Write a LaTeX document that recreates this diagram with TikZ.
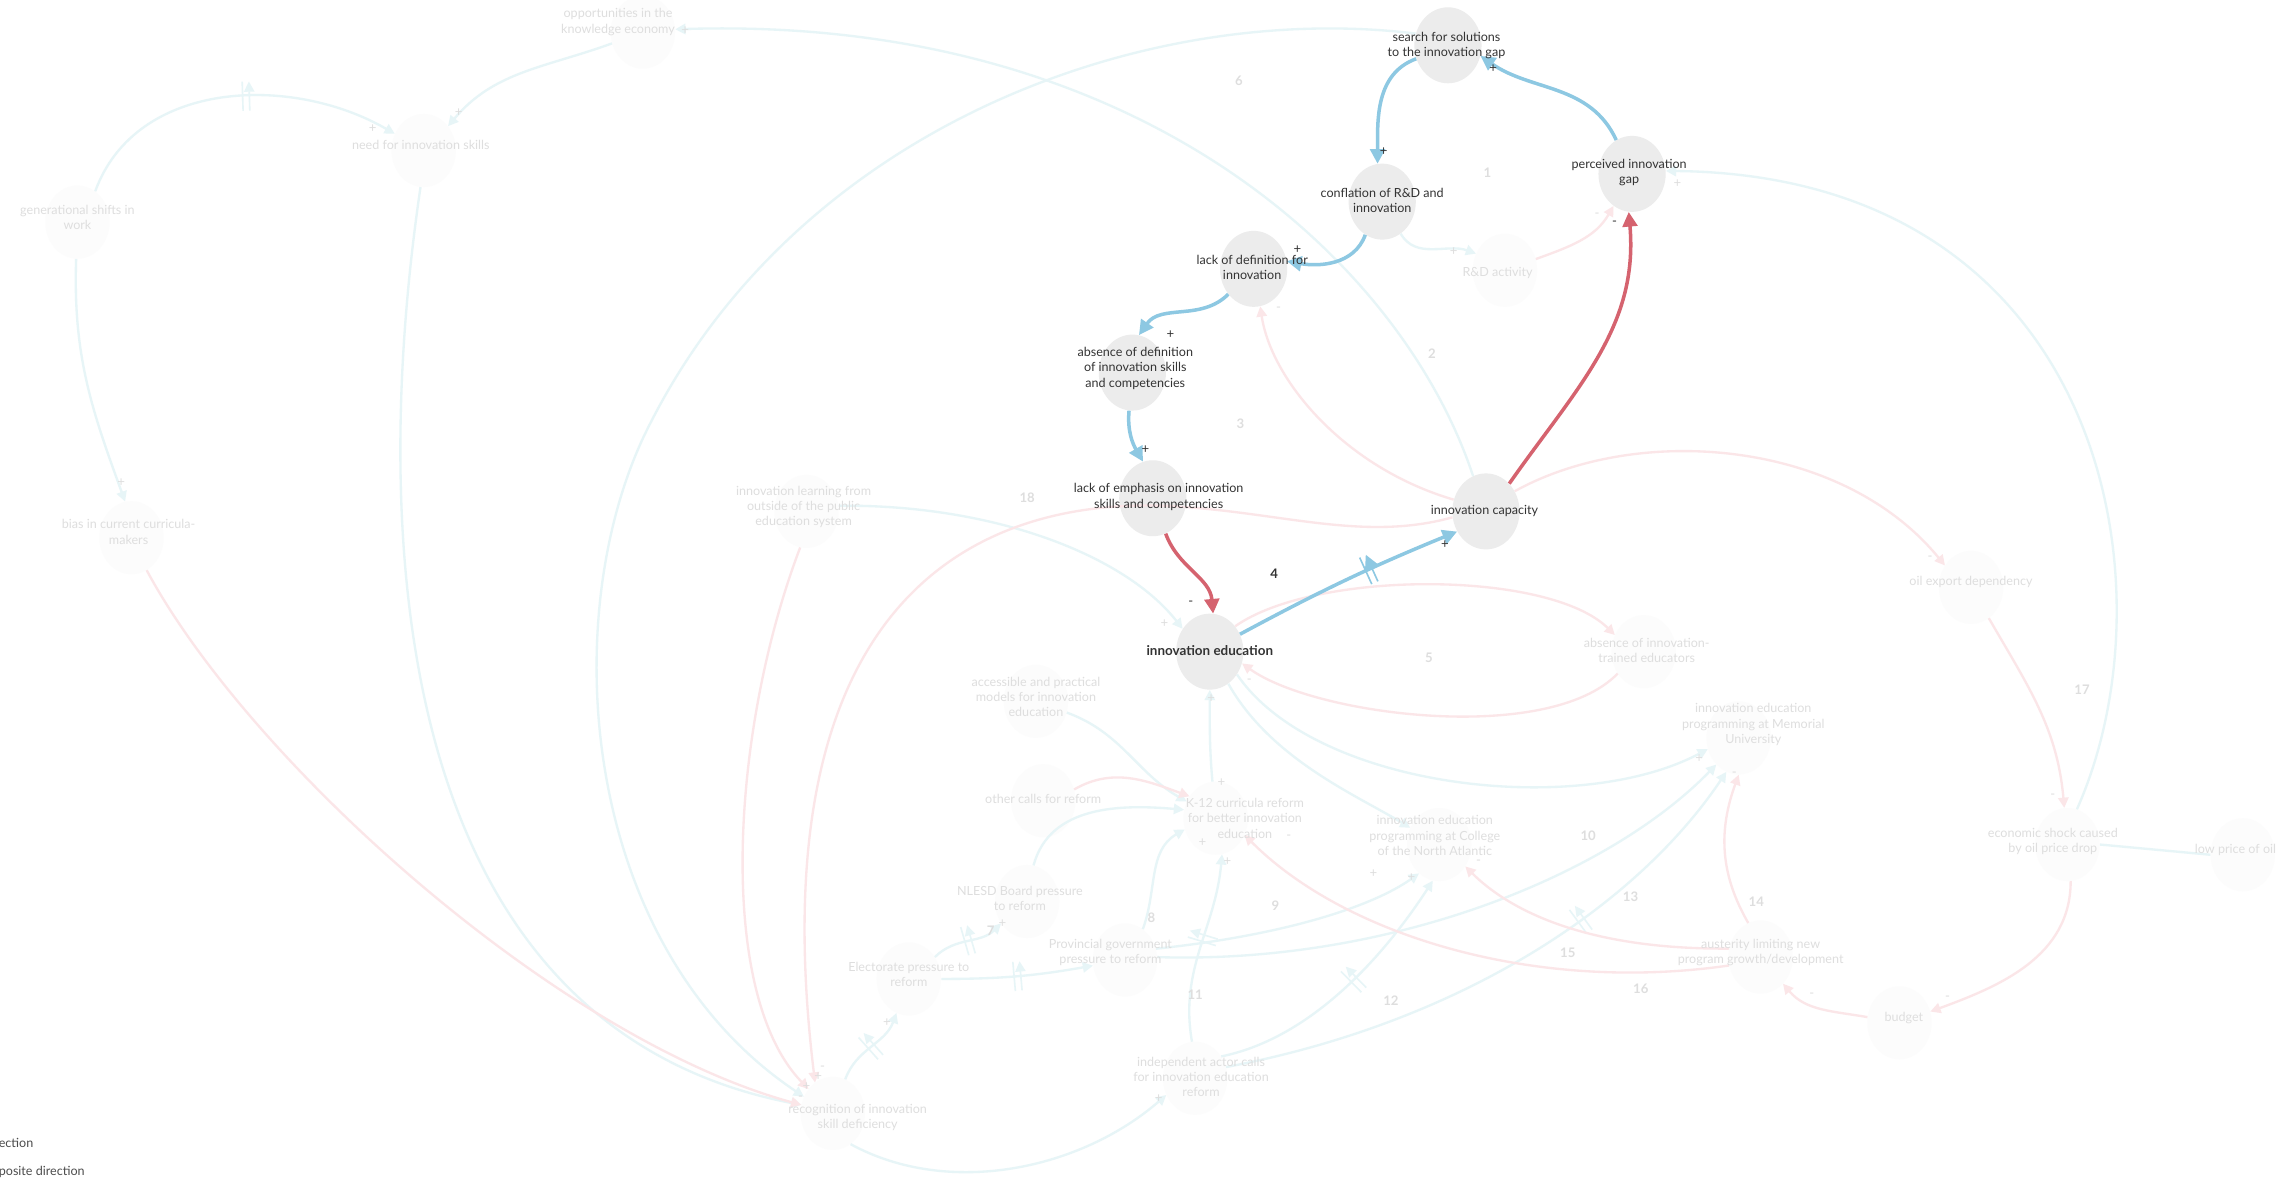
\documentclass[tikz,border=0pt]{standalone}
\usepackage{fontspec}
\setmainfont{Lato}
\usetikzlibrary{arrows.meta,decorations.markings,shapes.geometric}
\definecolor{cblue}{HTML}{8DC8E2}
\definecolor{cred}{HTML}{D5636F}
\definecolor{fblue}{HTML}{E7F5F7}
\definecolor{fred}{HTML}{FBE6E8}
\definecolor{bub}{HTML}{ECECEC}
\definecolor{fbub}{HTML}{FCFCFC}
\definecolor{ftext}{HTML}{DEDEDE}
\definecolor{dtext}{HTML}{333333}
\tikzset{
 bubble/.style={ellipse, fill=bub, minimum width=46pt, minimum height=52pt, inner sep=0},
 fbubble/.style={ellipse, fill=fbub, minimum width=44pt, minimum height=50pt, inner sep=0},
 lbl/.style={align=center, inner sep=0, text=dtext, font=\fontsize{8.6}{10.5}\selectfont},
 flbl/.style={lbl, text=ftext},
 sgn/.style={inner sep=0, text=dtext, font=\fontsize{9}{9}\selectfont},
 fsgn/.style={sgn, text=ftext},
 num/.style={inner sep=0, text=ftext, font=\fontsize{9}{9}\selectfont\bfseries},
 blink/.style={draw=cblue, line width=2.4pt, -{Triangle[length=10pt,width=10pt]}},
 rlink/.style={draw=cred, line width=2.4pt, -{Triangle[length=10pt,width=10pt]}},
 fblink/.style={draw=fblue, line width=1.6pt, -{Triangle[length=7pt,width=7pt]}},
 frlink/.style={draw=fred, line width=1.6pt, -{Triangle[length=7pt,width=7pt]}},
 dbar/.style 2 args={postaction={decorate,decoration={markings,
   mark=at position #1 with {\draw[#2,line width=1.1pt] (-2.3pt,-10pt)--(-2.3pt,10pt) (2.3pt,-10pt)--(2.3pt,10pt);}}}}
}
\begin{document}
\begin{tikzpicture}[x=1pt,y=1pt]
\fill[white] (0,0) rectangle (1568,-809);
\useasboundingbox (0,0) rectangle (1568,-809);

% faint bubbles
\node[fbubble] (opp) at (440,-22) {};
\node[fbubble] (need) at (290,-103) {};
\node[fbubble] (gen) at (53,-152) {};
\node[fbubble] (bias) at (90,-368) {};
\node[fbubble] (learn) at (552,-350) {};
\node[fbubble] (rnd) at (1030,-185) {};
\node[fbubble] (atrained) at (1125,-446) {};
\node[fbubble] (oil) at (1349,-402) {};
\node[fbubble] (mun) at (1190,-505) {};
\node[fbubble] (shock) at (1415,-578) {};
\node[fbubble] (lowoil) at (1535,-585) {};
\node[fbubble] (access) at (709,-480) {};
\node[fbubble] (other) at (714,-548) {};
\node[fbubble] (k12) at (832,-560) {};
\node[fbubble] (cna) at (985,-578) {};
\node[fbubble] (nlesd) at (703,-617) {};
\node[fbubble] (prov) at (770,-657) {};
\node[fbubble] (elect) at (622,-670) {};
\node[fbubble] (aust) at (1205,-655) {};
\node[fbubble] (budget) at (1300,-700) {};
\node[fbubble] (indep) at (818,-738) {};
\node[fbubble] (recog) at (570,-762) {};

% main bubbles
\node[bubble] (search) at (991,-31) {};
\node[bubble] (perceived) at (1117,-119) {};
\node[bubble] (conflation) at (946,-138) {};
\node[bubble] (lackdef) at (858,-184) {};
\node[bubble] (absence) at (775,-255) {};
\node[bubble] (lackemph) at (789,-341) {};
\node[bubble] (capacity) at (1017,-350) {};
\node[bubble] (innoved) at (828,-446) {};

% faint blue connectors
\draw[fblink, dbar={0.55}{fblue}] (gen.60) to[out=70,in=150] (need.150);
\draw[fblink] (gen.-92) to[out=-92,in=110] (bias.100);
\draw[fblink] (opp.200) to[out=200,in=50] (need.45);
\draw[fblink] (capacity.110) .. controls (960,-180) and (780,-10) .. (opp.5);
\draw[fblink] (search.160) .. controls (780,0) and (540,-90) .. (440,-300) .. controls (380,-430) and (400,-650) .. (recog.150);
\draw[fblink] (need.-95) .. controls (255,-350) and (260,-700) .. (recog.165);
\draw[fblink] (shock.75) .. controls (1490,-400) and (1440,-120) .. (perceived.5);
\draw[draw=fblue, line width=1.6pt] (lowoil.180) -- (shock.0);
\draw[fblink] (learn.10) .. controls (680,-345) and (770,-380) .. (innoved.140);
\draw[fblink] (conflation.-60) to[out=-60,in=160] (rnd.150);
\draw[fblink] (innoved.-40) .. controls (900,-540) and (1080,-560) .. (mun.200);
\draw[fblink] (innoved.-60) .. controls (870,-520) and (930,-545) .. (cna.150);
\draw[fblink] (k12.95) to[out=95,in=-90] (innoved.-90);
\draw[fblink] (access.-20) to[out=-20,in=150] (k12.150);
\draw[fblink] (nlesd.80) to[out=75,in=175] (k12.165);
\draw[fblink] (prov.60) to[out=70,in=210] (k12.200);
\draw[fblink, dbar={0.55}{fblue}] (indep.95) to[out=100,in=-95] (k12.-80);
\draw[fblink, dbar={0.5}{fblue}] (elect.40) to[out=45,in=225] (nlesd.220);
\draw[fblink, dbar={0.5}{fblue}] (elect.0) to[out=0,in=190] (prov.190);
\draw[fblink, dbar={0.5}{fblue}] (recog.70) to[out=70,in=250] (elect.250);
\draw[fblink] (recog.-60) .. controls (650,-820) and (740,-800) .. (indep.210);
\draw[fblink] (prov.5) .. controls (950,-660) and (1100,-600) .. (mun.230);
\draw[fblink] (prov.20) .. controls (880,-640) and (940,-620) .. (cna.235);
\draw[fblink, dbar={0.55}{fblue}] (indep.40) .. controls (900,-710) and (950,-650) .. (cna.260);
\draw[fblink, dbar={0.65}{fblue}] (indep.20) .. controls (1000,-700) and (1120,-620) .. (mun.250);

% faint red connectors
\draw[frlink] (capacity.160) .. controls (920,-320) and (870,-260) .. (lackdef.-80);
\draw[frlink] (rnd.20) to[out=20,in=-120] (perceived.-120);
\draw[frlink] (capacity.190) .. controls (930,-372) and (870,-348) .. (790,-346) .. controls (650,-344) and (520,-430) .. (recog.120);
\draw[frlink] (learn.-100) .. controls (500,-500) and (490,-680) .. (recog.135);
\draw[frlink] (bias.-65) .. controls (170,-520) and (380,-710) .. (recog.165);
\draw[frlink] (capacity.35) .. controls (1120,-290) and (1260,-300) .. (oil.140);
\draw[frlink] (oil.-60) to[out=-60,in=95] (shock.95);
\draw[frlink] (shock.-85) to[out=-90,in=20] (budget.20);
\draw[frlink] (budget.170) to[out=170,in=-50] (aust.-50);
\draw[frlink] (aust.110) to[out=120,in=-110] (mun.-90);
\draw[frlink] (aust.165) .. controls (1080,-650) and (1030,-620) .. (cna.-40);
\draw[frlink] (aust.195) .. controls (1050,-680) and (920,-640) .. (k12.-30);
\draw[frlink] (innoved.45) .. controls (900,-390) and (1060,-390) .. (atrained.150);
\draw[frlink] (atrained.-140) .. controls (1060,-510) and (900,-490) .. (innoved.-20);
\draw[frlink] (other.20) to[out=30,in=160] (k12.140);

% main connectors
\draw[blink] (perceived.115) to[out=115,in=-35] (search.-18);
\draw[blink] (search.203) to[out=200,in=90] (conflation.97);
\draw[blink] (conflation.243) to[out=-110,in=-10] (lackdef.13);
\draw[blink] (lackdef.225) to[out=225,in=55] (absence.80);
\draw[blink] (absence.265) to[out=-95,in=120] (lackemph.105);
\draw[blink, dbar={0.6}{cblue}] (innoved.30) to[bend left=3] (capacity.215);
\draw[rlink] (lackemph.-70) to[out=-70,in=95] (innoved.85);
\draw[rlink] (capacity.50) to[out=55,in=-85] (perceived.-95);

% faint labels
\node[flbl] (t-opp) at (423,-15) {opportunities in the\\knowledge economy};
\node[flbl] (t-need) at (288,-99) {need for innovation skills};
\node[flbl] (t-gen) at (53,-149) {generational shifts in\\work};
\node[flbl] (t-bias) at (88,-364) {bias in current curricula-\\makers};
\node[flbl] (t-learn) at (550,-347) {innovation learning from\\outside of the public\\education system};
\node[flbl] (t-rnd) at (1025,-187) {R\&D activity};
\node[flbl] (t-atrained) at (1127,-445) {absence of innovation-\\trained educators};
\node[flbl] (t-oil) at (1349,-398) {oil export dependency};
\node[flbl] (t-mun) at (1200,-496) {innovation education\\programming at Memorial\\University};
\node[flbl] (t-shock) at (1405,-576) {economic shock caused\\by oil price drop};
\node[flbl] (t-lowoil) at (1530,-582) {low price of oil};
\node[flbl] (t-access) at (709,-477) {accessible and practical\\models for innovation\\education};
\node[flbl] (t-other) at (714,-547) {other calls for reform};
\node[flbl] (t-k12) at (852,-560) {K-12 curricula reform\\for better innovation\\education};
\node[flbl] (t-cna) at (982,-572) {innovation education\\programming at College\\of the North Atlantic};
\node[flbl] (t-nlesd) at (698,-615) {NLESD Board pressure\\to reform};
\node[flbl] (t-prov) at (760,-652) {Provincial government\\pressure to reform};
\node[flbl] (t-elect) at (622,-667) {Electorate pressure to\\reform};
\node[flbl] (t-aust) at (1205,-652) {austerity limiting new\\program growth/development};
\node[flbl] (t-budget) at (1303,-697) {budget};
\node[flbl] (t-indep) at (822,-737) {independent actor calls\\for innovation education\\reform};
\node[flbl] (t-recog) at (587,-765) {recognition of innovation\\skill deficiency};

% loop numbers
\node[num] (n1) at (1018,-118) {1};
\node[num] (n2) at (980,-242) {2};
\node[num] (n3) at (849,-290) {3};
\node[num] (n5) at (978,-450) {5};
\node[num] (n6) at (848,-55) {6};
\node[num] (n7) at (678,-637) {7};
\node[num] (n8) at (788,-628) {8};
\node[num] (n9) at (873,-620) {9};
\node[num] (n10) at (1087,-572) {10};
\node[num] (n11) at (818,-681) {11};
\node[num] (n12) at (952,-685) {12};
\node[num] (n13) at (1116,-614) {13};
\node[num] (n14) at (1202,-617) {14};
\node[num] (n15) at (1073,-652) {15};
\node[num] (n16) at (1123,-677) {16};
\node[num] (n17) at (1425,-472) {17};
\node[num] (n18) at (703,-341) {18};
\node[num, text=dtext] (n4) at (872,-393) {4};

% faint signs
\node[fsgn] (fs1) at (255,-88) {+};
\node[fsgn] (fs2) at (314,-77) {+};
\node[fsgn] (fs3) at (83,-330) {+};
\node[fsgn] (fs4) at (469,-21) {+};
\node[fsgn] (fs5) at (1148,-126) {+};
\node[fsgn] (fs6) at (797,-427) {+};
\node[fsgn] (fs7) at (995,-172) {+};
\node[fsgn] (fs8) at (1163,-519) {+};
\node[fsgn] (fs9) at (829,-478) {+};
\node[fsgn] (fs10) at (836,-536) {+};
\node[fsgn] (fs11) at (823,-577) {+};
\node[fsgn] (fs12) at (840,-590) {+};
\node[fsgn] (fs13) at (686,-632) {+};
\node[fsgn] (fs14) at (607,-700) {+};
\node[fsgn] (fs15) at (793,-752) {+};
\node[fsgn] (fs16) at (966,-601) {+};
\node[fsgn] (fs17) at (940,-598) {+};
\node[fsgn] (fs18) at (560,-737) {+};
\node[fsgn] (fs19) at (552,-744) {+};
\node[fsgn] (fs20) at (875,-212) {-};
\node[fsgn] (fs21) at (1093,-147) {-};
\node[fsgn] (fs22) at (1321,-382) {-};
\node[fsgn] (fs23) at (1405,-545) {-};
\node[fsgn] (fs24) at (1333,-683) {-};
\node[fsgn] (fs25) at (1240,-681) {-};
\node[fsgn] (fs26) at (1187,-530) {-};
\node[fsgn] (fs27) at (1012,-590) {-};
\node[fsgn] (fs28) at (882,-573) {-};
\node[fsgn] (fs29) at (855,-466) {-};
\node[fsgn] (fs30) at (548,-752) {-};
\node[fsgn] (fs31) at (563,-731) {-};

% main labels
\node[lbl] (t-search) at (990,-31) {search for solutions\\to the innovation gap};
\node[lbl] (t-perceived) at (1115,-118) {perceived innovation\\gap};
\node[lbl] (t-conflation) at (946,-137) {conflation of R\&D and\\innovation};
\node[lbl] (t-lackdef) at (857,-183) {lack of definition for\\innovation};
\node[lbl] (t-absence) at (777,-252) {absence of definition\\of innovation skills\\and competencies};
\node[lbl] (t-lackemph) at (793,-340) {lack of emphasis on innovation\\skills and competencies};
\node[lbl] (t-capacity) at (1016,-350) {innovation capacity};
\node[lbl, font=\fontsize{9.2}{11}\selectfont\bfseries] (t-innoved) at (828,-445) {innovation education};

% main signs
\node[sgn] (s1) at (1022,-47) {+};
\node[sgn] (s2) at (947,-104) {+};
\node[sgn] (s3) at (888,-171) {+};
\node[sgn] (s4) at (801,-229) {+};
\node[sgn] (s5) at (784,-308) {+};
\node[sgn] (s6) at (989,-373) {+};
\node[sgn] (s7) at (815,-413) {-};
\node[sgn] (s8) at (1105,-153) {-};

% legend remnants
\node[lbl, anchor=west, text=black!70] (leg1) at (-1,-782) {ection};
\node[lbl, anchor=west, text=black!70] (leg2) at (-1,-802) {posite direction};
\end{tikzpicture}
\end{document}
